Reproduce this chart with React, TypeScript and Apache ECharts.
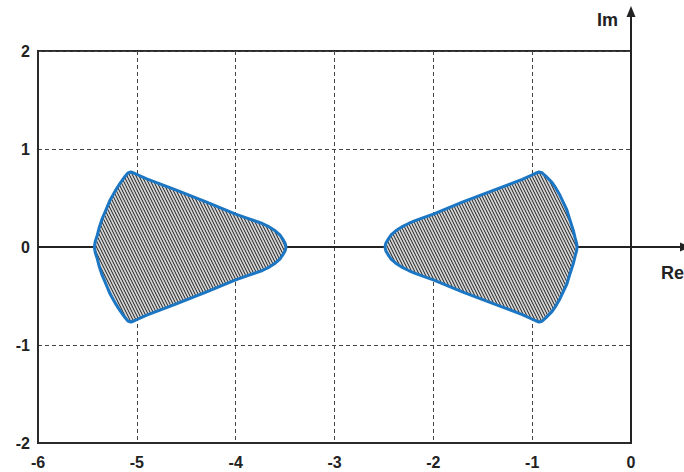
import React, { useEffect, useRef } from "react";
import * as echarts from "echarts";

// Axis ranges / ticks
const xTicks = [-6, -5, -4, -3, -2, -1, 0];
const yTicks = [-2, -1, 0, 1, 2];

// Region boundaries (Re, Im)
const leftRegion: [number, number][] = [
  [-3.49, 0], [-3.5, 0.04], [-3.52, 0.075], [-3.55, 0.12], [-3.6, 0.165],
  [-3.66, 0.205], [-3.73, 0.24], [-3.81, 0.268], [-3.9, 0.3], [-4.0, 0.335],
  [-4.3, 0.46], [-4.6, 0.58], [-4.9, 0.695], [-5.02, 0.75], [-5.06, 0.765],
  [-5.09, 0.755], [-5.12, 0.72], [-5.17, 0.65], [-5.22, 0.57], [-5.27, 0.48],
  [-5.31, 0.385], [-5.35, 0.29], [-5.38, 0.2], [-5.4, 0.12], [-5.42, 0.06],
  [-5.43, 0],
  [-5.42, -0.06], [-5.4, -0.12], [-5.38, -0.2], [-5.35, -0.29], [-5.31, -0.385],
  [-5.27, -0.48], [-5.22, -0.57], [-5.17, -0.65], [-5.12, -0.72], [-5.09, -0.755],
  [-5.06, -0.765], [-5.02, -0.75], [-4.9, -0.695], [-4.6, -0.58], [-4.3, -0.46],
  [-4.0, -0.335], [-3.9, -0.3], [-3.81, -0.268], [-3.73, -0.24], [-3.66, -0.205],
  [-3.6, -0.165], [-3.55, -0.12], [-3.52, -0.075], [-3.5, -0.04],
];

const rightRegion: [number, number][] = [
  [-2.49, 0], [-2.48, 0.04], [-2.46, 0.075], [-2.43, 0.12], [-2.38, 0.165],
  [-2.32, 0.205], [-2.25, 0.24], [-2.19, 0.266], [-2.1, 0.3], [-2.0, 0.335],
  [-1.7, 0.46], [-1.4, 0.575], [-1.1, 0.69], [-0.97, 0.75], [-0.93, 0.765],
  [-0.9, 0.757], [-0.86, 0.72], [-0.8, 0.66], [-0.76, 0.6], [-0.72, 0.53],
  [-0.685, 0.455], [-0.65, 0.38], [-0.625, 0.3], [-0.6, 0.22], [-0.58, 0.155],
  [-0.565, 0.09], [-0.552, 0.045], [-0.545, 0],
  [-0.552, -0.045], [-0.565, -0.09], [-0.58, -0.155], [-0.6, -0.22], [-0.625, -0.3],
  [-0.65, -0.38], [-0.685, -0.455], [-0.72, -0.53], [-0.76, -0.6], [-0.8, -0.66],
  [-0.86, -0.72], [-0.9, -0.757], [-0.93, -0.765], [-0.97, -0.75], [-1.1, -0.69],
  [-1.4, -0.575], [-1.7, -0.46], [-2.0, -0.335], [-2.1, -0.3], [-2.19, -0.266],
  [-2.25, -0.24], [-2.32, -0.205], [-2.38, -0.165], [-2.43, -0.12], [-2.46, -0.075],
  [-2.48, -0.04],
];

const regions = [leftRegion, rightRegion];

const FONT = "'Liberation Sans', Arial, sans-serif";

function makeHatch() {
  const W = 3, H = 6;
  const c = document.createElement("canvas");
  c.width = W;
  c.height = H;
  const ctx = c.getContext("2d")!;
  ctx.fillStyle = "#d6d6d6";
  ctx.fillRect(0, 0, W, H);
  ctx.strokeStyle = "#1e1e1e";
  ctx.lineWidth = 1;
  for (const dx of [-W, 0, W]) {
    ctx.beginPath();
    ctx.moveTo(dx - W, -H);
    ctx.lineTo(dx + 2 * W, 2 * H);
    ctx.stroke();
  }
  return { image: c, repeat: "repeat", imageWidth: W, imageHeight: H };
}

export default function App() {
  const ref = useRef<HTMLDivElement>(null);

  useEffect(() => {
    if (!ref.current) return;
    const chart = echarts.init(ref.current, null, { renderer: "svg" });
    const hatch = makeHatch();
    const axisColor = "#222";

    const option: any = {
      animation: false,
      backgroundColor: "#fff",
      grid: {
        left: 38,
        right: 53,
        top: 51,
        bottom: 29,
        show: true,
        borderColor: "#2a2a2a",
        borderWidth: 2,
        backgroundColor: "transparent",
      },
      xAxis: {
        type: "value",
        min: xTicks[0],
        max: xTicks[xTicks.length - 1],
        interval: 1,
        axisLine: { show: true, onZero: false, lineStyle: { color: "#2a2a2a", width: 2 } },
        axisTick: { show: false },
        axisLabel: {
          margin: 11,
          color: "#222",
          fontFamily: FONT,
          fontWeight: "bold",
          fontSize: 16,
          showMinLabel: true,
          showMaxLabel: true,
        },
        splitLine: { show: true, lineStyle: { color: "#444", type: [4, 3], width: 1 } },
      },
      yAxis: {
        type: "value",
        min: yTicks[0],
        max: yTicks[yTicks.length - 1],
        interval: 1,
        axisLine: { show: true, onZero: false, lineStyle: { color: "#2a2a2a", width: 2 } },
        axisTick: { show: false },
        axisLabel: {
          margin: 8,
          color: "#222",
          fontFamily: FONT,
          fontWeight: "bold",
          fontSize: 16,
        },
        splitLine: { show: true, lineStyle: { color: "#444", type: [4, 3], width: 1 } },
      },
      series: [
        {
          type: "custom",
          coordinateSystem: "cartesian2d",
          clip: false,
          silent: true,
          z: 3,
          data: [[0, 0]],
          renderItem: (_params: any, api: any) => {
            const top = api.coord([0, yTicks[yTicks.length - 1]]);
            const bot = api.coord([0, yTicks[0]]);
            const left = api.coord([xTicks[0], 0]);
            const orig = api.coord([0, 0]);
            const w = api.getWidth();
            const arrowTip = 6;
            return {
              type: "group",
              children: [
                {
                  type: "line",
                  shape: { x1: top[0], y1: bot[1], x2: top[0], y2: arrowTip + 8 },
                  style: { stroke: axisColor, lineWidth: 2 },
                },
                {
                  type: "polygon",
                  shape: {
                    points: [
                      [top[0], arrowTip],
                      [top[0] - 4.5, arrowTip + 11],
                      [top[0] + 4.5, arrowTip + 11],
                    ],
                  },
                  style: { fill: axisColor },
                },
                {
                  type: "line",
                  shape: { x1: left[0], y1: orig[1], x2: w, y2: orig[1] },
                  style: { stroke: axisColor, lineWidth: 2 },
                },
                {
                  type: "polygon",
                  shape: {
                    points: [
                      [w + 7, orig[1]],
                      [w - 4, orig[1] - 4.5],
                      [w - 4, orig[1] + 4.5],
                    ],
                  },
                  style: { fill: axisColor },
                },
                {
                  type: "text",
                  style: {
                    text: "Im",
                    x: top[0] - 34,
                    y: 20,
                    fill: "#222",
                    fontFamily: FONT,
                    fontWeight: "bold",
                    fontSize: 18,
                    verticalAlign: "middle",
                    align: "left",
                  },
                },
                {
                  type: "text",
                  style: {
                    text: "Re",
                    x: w - 23,
                    y: orig[1] + 26,
                    fill: "#222",
                    fontFamily: FONT,
                    fontWeight: "bold",
                    fontSize: 18,
                    verticalAlign: "middle",
                    align: "left",
                  },
                },
              ],
            };
          },
        },
        {
          type: "custom",
          coordinateSystem: "cartesian2d",
          clip: false,
          silent: true,
          z: 5,
          data: regions.map((r) => r[0]),
          renderItem: (params: any, api: any) => {
            const poly = regions[params.dataIndex];
            const points = poly.map((p) => api.coord(p));
            return {
              type: "polygon",
              shape: { points },
              style: {
                fill: hatch,
                stroke: "#1b76c3",
                lineWidth: 3,
                lineJoin: "round",
              },
            };
          },
        },
      ],
    };

    chart.setOption(option);
    return () => chart.dispose();
  }, []);

  return <div ref={ref} style={{ width: 684, height: 472, position: "absolute", left: 0, top: 0 }} />;
}
